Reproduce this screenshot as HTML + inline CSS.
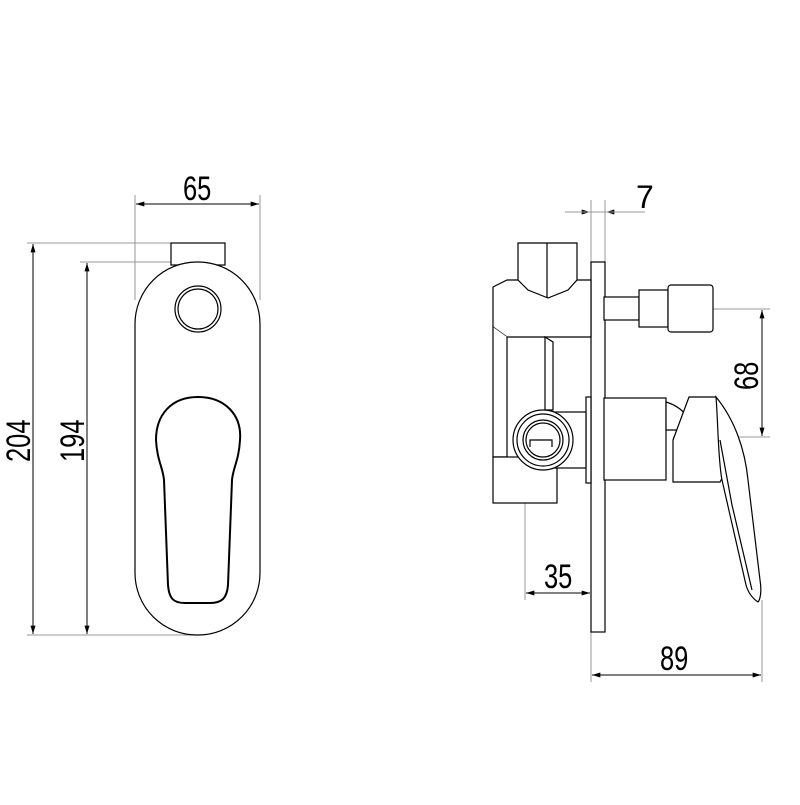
<!DOCTYPE html>
<html><head><style>html,body{margin:0;padding:0;background:#fff}</style></head><body>
<svg width="800" height="800" viewBox="0 0 800 800" xmlns="http://www.w3.org/2000/svg">
<defs>
<marker id="a" viewBox="0 0 10 6" refX="10" refY="3" markerWidth="12" markerHeight="5" orient="auto-start-reverse" markerUnits="userSpaceOnUse"><path d="M0,0L10,3L0,6z" fill="#000"/></marker>
</defs>
<g stroke="#999" stroke-width="1" fill="none">
<!-- left dims -->
<line x1="135" y1="195" x2="135" y2="300"/>
<line x1="260" y1="195" x2="260" y2="300"/>
<line x1="27" y1="243" x2="200" y2="243"/>
<line x1="80" y1="262" x2="190" y2="262"/>
<line x1="27" y1="635" x2="200" y2="635"/>
<!-- right dims -->
<line x1="591" y1="200" x2="591" y2="262"/>
<line x1="605" y1="200" x2="605" y2="262"/>
<line x1="591" y1="632" x2="591" y2="682"/>
<line x1="713" y1="309" x2="770" y2="309"/>
<line x1="673" y1="437" x2="770" y2="437"/>
<line x1="525" y1="503" x2="525" y2="600"/>
<line x1="762" y1="600" x2="762" y2="682"/>
</g>
<g stroke="#000" stroke-width="1" fill="none">
<line x1="136" y1="204" x2="259" y2="204" marker-start="url(#a)" marker-end="url(#a)"/>
<line x1="33" y1="244" x2="33" y2="634" marker-start="url(#a)" marker-end="url(#a)"/>
<line x1="87" y1="263" x2="87" y2="634" marker-start="url(#a)" marker-end="url(#a)"/>
<line x1="565" y1="212" x2="590" y2="212" marker-end="url(#a)"/>
<line x1="645" y1="212" x2="606" y2="212" marker-end="url(#a)"/>
<line x1="565" y1="212" x2="645" y2="212" stroke="#999"/>
<line x1="762" y1="310" x2="762" y2="436" marker-start="url(#a)" marker-end="url(#a)"/>
<line x1="526" y1="593" x2="590" y2="593" marker-start="url(#a)" marker-end="url(#a)"/>
<line x1="592" y1="675" x2="761" y2="675" marker-start="url(#a)" marker-end="url(#a)"/>
</g>
<g font-family="Liberation Sans, sans-serif" font-size="34" fill="#000">
<text x="183" y="200" transform="translate(183 200) scale(0.75 1) translate(-183 -200)">65</text>
<text x="636" y="208" font-size="32">7</text>
<text x="544" y="588" transform="translate(544 588) scale(0.75 1) translate(-544 -588)">35</text>
<text x="660" y="670" transform="translate(660 670) scale(0.75 1) translate(-660 -670)">89</text>
<text transform="translate(30 462) rotate(-90) scale(0.75 1)">204</text>
<text transform="translate(84 462) rotate(-90) scale(0.75 1)">194</text>
<text transform="translate(758 390) rotate(-90) scale(0.75 1)">68</text>
</g>
<!-- left view -->
<g stroke="#000" stroke-width="1.2" fill="none">
<rect x="171" y="243" width="54" height="22" fill="#fff"/>
<rect x="135" y="262" width="125" height="373" rx="62" ry="62" fill="#fff"/>
<circle cx="198" cy="309" r="23"/>
<circle cx="198" cy="309" r="20"/>
<path stroke-width="2" d="M198,397 C225,397 242,415 240,440 C239,460 233,468 232,480 L228,585 C227,598 222,603 210,603 L185,603 C173,603 169,598 168,585 L164,480 C163,468 157,460 156,440 C156,415 171,397 198,397Z"/>
</g>
<!-- right view -->
<g stroke="#000" stroke-width="1.2" fill="#fff">
<rect x="591" y="262" width="14" height="370"/>
<path d="M493,287 L507,280 L591,280 L591,337 L507,337 L493,327Z"/>
<path d="M518,243 L577,243 L577,280 L568,290 L548,298 L528,290 L518,280Z"/>
<line x1="547" y1="243" x2="547" y2="298"/>
<path d="M493,327 L493,457 L507,457 L507,337"/>
<path d="M545,337 L553,342 L553,410 L545,410Z"/>
<rect x="493" y="457" width="64" height="46"/>
<rect x="586" y="397" width="5" height="86"/>
<rect x="553" y="412" width="33" height="56"/>
<circle cx="543" cy="440" r="30"/>
<circle cx="543" cy="440" r="26"/>
<circle cx="543" cy="440" r="20"/>
<circle cx="543" cy="440" r="17"/>
<path d="M530,447 L530,440 L552,440 L552,447" fill="none"/>
<rect x="604" y="297" width="35" height="23"/>
<rect x="639" y="290" width="29" height="37"/>
<rect x="668" y="285" width="45" height="47" rx="3"/>
<rect x="604" y="398" width="62" height="82"/>
<path d="M666,402 C676,405 682,410 686,415 L680,430 L666,430Z"/>
<path d="M673,440 L689,397 L716,397 L735,455 L720,482 L673,482Z"/>
<path d="M716,397 C735,420 745,450 748,480 L760,580 C762,592 760,600 758,602 C752,598 748,592 746,585 L722,480 C718,460 718,420 716,397Z"/>
<path d="M720,440 L732,505 L752,590" fill="none"/>
</g>
</svg>
</body></html>
